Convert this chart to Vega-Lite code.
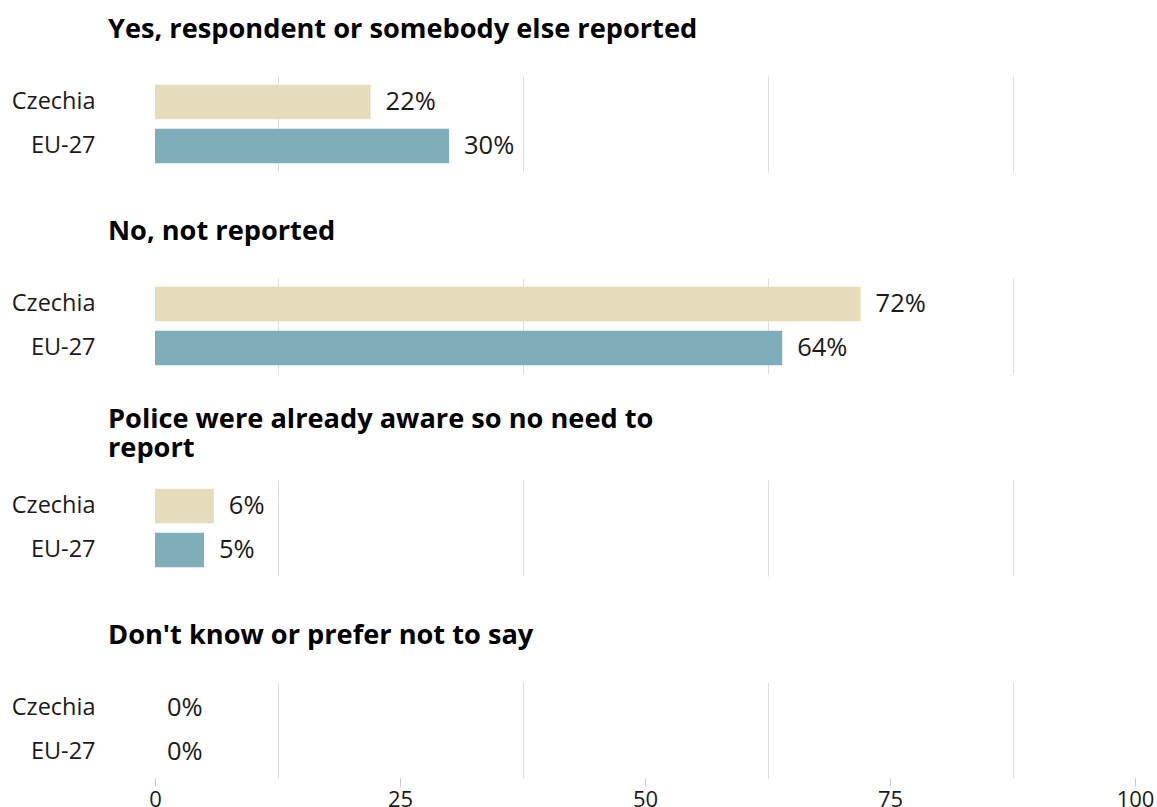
{
  "$schema": "https://vega.github.io/schema/vega-lite/v6.json",
  "padding": {"left": 11, "top": 15, "right": 0, "bottom": 0},
  "background": "white",
  "data": {
    "values": [
      {"category": "Yes, respondent or somebody else reported", "country": "Czechia", "value": 22},
      {"category": "Yes, respondent or somebody else reported", "country": "EU-27", "value": 30},
      {"category": "No, not reported", "country": "Czechia", "value": 72},
      {"category": "No, not reported", "country": "EU-27", "value": 64},
      {"category": "Police were already aware so no need to report", "country": "Czechia", "value": 6},
      {"category": "Police were already aware so no need to report", "country": "EU-27", "value": 5},
      {"category": "Don't know or prefer not to say", "country": "Czechia", "value": 0},
      {"category": "Don't know or prefer not to say", "country": "EU-27", "value": 0}
    ]
  },
  "spacing": 106,
  "bounds": "flush",
  "vconcat": [
    {
      "title": {"text": "Yes, respondent or somebody else reported"},
      "width": 980, "height": 96,
      "transform": [{"filter": "datum.category === 'Yes, respondent or somebody else reported'"}],
      "encoding": {
        "y": {"field": "country", "type": "nominal", "sort": ["Czechia", "EU-27"], "title": null,
              "scale": {"paddingInner": 0.22, "paddingOuter": 0.2}},
        "x": {"field": "value", "type": "quantitative", "title": null, "scale": {"domain": [0, 100]},
              "axis": {"values": [12.5, 37.5, 62.5, 87.5], "labels": false, "ticks": false, "domain": false, "grid": true}}
      },
      "layer": [
        {"mark": "bar", "encoding": {"color": {"field": "country", "type": "nominal", "scale": {"domain": ["Czechia", "EU-27"], "range": ["#E5DCBB", "#80ADBA"]}, "legend": null}}},
        {"mark": {"type": "text", "align": "left", "dx": 15, "baseline": "middle", "fontSize": 25.5, "text": {"expr": "datum.value + '%'"}}}
      ]
    },
    {
      "title": {"text": "No, not reported"},
      "width": 980, "height": 96,
      "transform": [{"filter": "datum.category === 'No, not reported'"}],
      "encoding": {
        "y": {"field": "country", "type": "nominal", "sort": ["Czechia", "EU-27"], "title": null,
              "scale": {"paddingInner": 0.22, "paddingOuter": 0.2}},
        "x": {"field": "value", "type": "quantitative", "title": null, "scale": {"domain": [0, 100]},
              "axis": {"values": [12.5, 37.5, 62.5, 87.5], "labels": false, "ticks": false, "domain": false, "grid": true}}
      },
      "layer": [
        {"mark": "bar", "encoding": {"color": {"field": "country", "type": "nominal", "scale": {"domain": ["Czechia", "EU-27"], "range": ["#E5DCBB", "#80ADBA"]}, "legend": null}}},
        {"mark": {"type": "text", "align": "left", "dx": 15, "baseline": "middle", "fontSize": 25.5, "text": {"expr": "datum.value + '%'"}}}
      ]
    },
    {
      "title": {"text": ["Police were already aware so no need to", "report"], "offset": 17},
      "width": 980, "height": 96,
      "transform": [{"filter": "datum.category === 'Police were already aware so no need to report'"}],
      "encoding": {
        "y": {"field": "country", "type": "nominal", "sort": ["Czechia", "EU-27"], "title": null,
              "scale": {"paddingInner": 0.22, "paddingOuter": 0.2}},
        "x": {"field": "value", "type": "quantitative", "title": null, "scale": {"domain": [0, 100]},
              "axis": {"values": [12.5, 37.5, 62.5, 87.5], "labels": false, "ticks": false, "domain": false, "grid": true}}
      },
      "layer": [
        {"mark": "bar", "encoding": {"color": {"field": "country", "type": "nominal", "scale": {"domain": ["Czechia", "EU-27"], "range": ["#E5DCBB", "#80ADBA"]}, "legend": null}}},
        {"mark": {"type": "text", "align": "left", "dx": 15, "baseline": "middle", "fontSize": 25.5, "text": {"expr": "datum.value + '%'"}}}
      ]
    },
    {
      "title": {"text": "Don't know or prefer not to say"},
      "width": 980, "height": 96,
      "transform": [{"filter": "datum.category === \"Don't know or prefer not to say\""}],
      "encoding": {
        "y": {"field": "country", "type": "nominal", "sort": ["Czechia", "EU-27"], "title": null,
              "scale": {"paddingInner": 0.22, "paddingOuter": 0.2}},
        "x": {"field": "value", "type": "quantitative", "title": null, "scale": {"domain": [0, 100]},
              "axis": {"values": [0, 12.5, 25, 37.5, 50, 62.5, 75, 87.5, 100], "domain": false, "grid": true,
                       "labelExpr": "datum.value % 25 === 0 ? datum.label : ''",
                       "labelFlush": false, "labelOverlap": false,
                       "gridOpacity": {"condition": {"test": "datum.value % 25 !== 0", "value": 1}, "value": 0},
                       "tickOpacity": {"condition": {"test": "datum.value % 25 === 0", "value": 1}, "value": 0},
                       "ticks": true, "tickSize": 8, "tickColor": "#C8C8C8", "labelPadding": 3, "labelFontSize": 22, "labelColor": "#1a1a1a", "labelFont": "Open Sans"}}
      },
      "layer": [
        {"mark": "bar", "encoding": {"color": {"field": "country", "type": "nominal", "scale": {"domain": ["Czechia", "EU-27"], "range": ["#E5DCBB", "#80ADBA"]}, "legend": null}}},
        {"mark": {"type": "text", "align": "left", "dx": 12, "baseline": "middle", "fontSize": 25.5, "text": {"expr": "datum.value + '%'"}}}
      ]
    }
  ],
  "config": {
    "view": {"stroke": null},
    "font": "Open Sans",
    "text": {"font": "Open Sans", "color": "#1a1a1a"},
    "title": {"anchor": "start", "frame": "group", "fontSize": 27.2, "fontWeight": "bold", "font": "Open Sans", "color": "#000000", "baseline": "middle", "offset": 32, "dx": -47, "lineHeight": 29},
    "axis": {"gridColor": "#DEDEDE", "gridWidth": 1, "labelFont": "Open Sans", "labelColor": "#1a1a1a"},
    "axisY": {"domain": false, "ticks": false, "labelFontSize": 23.5, "labelPadding": 60, "labelColor": "#1a1a1a", "grid": false},
    "axisX": {"labelFontSize": 22}
  }
}
